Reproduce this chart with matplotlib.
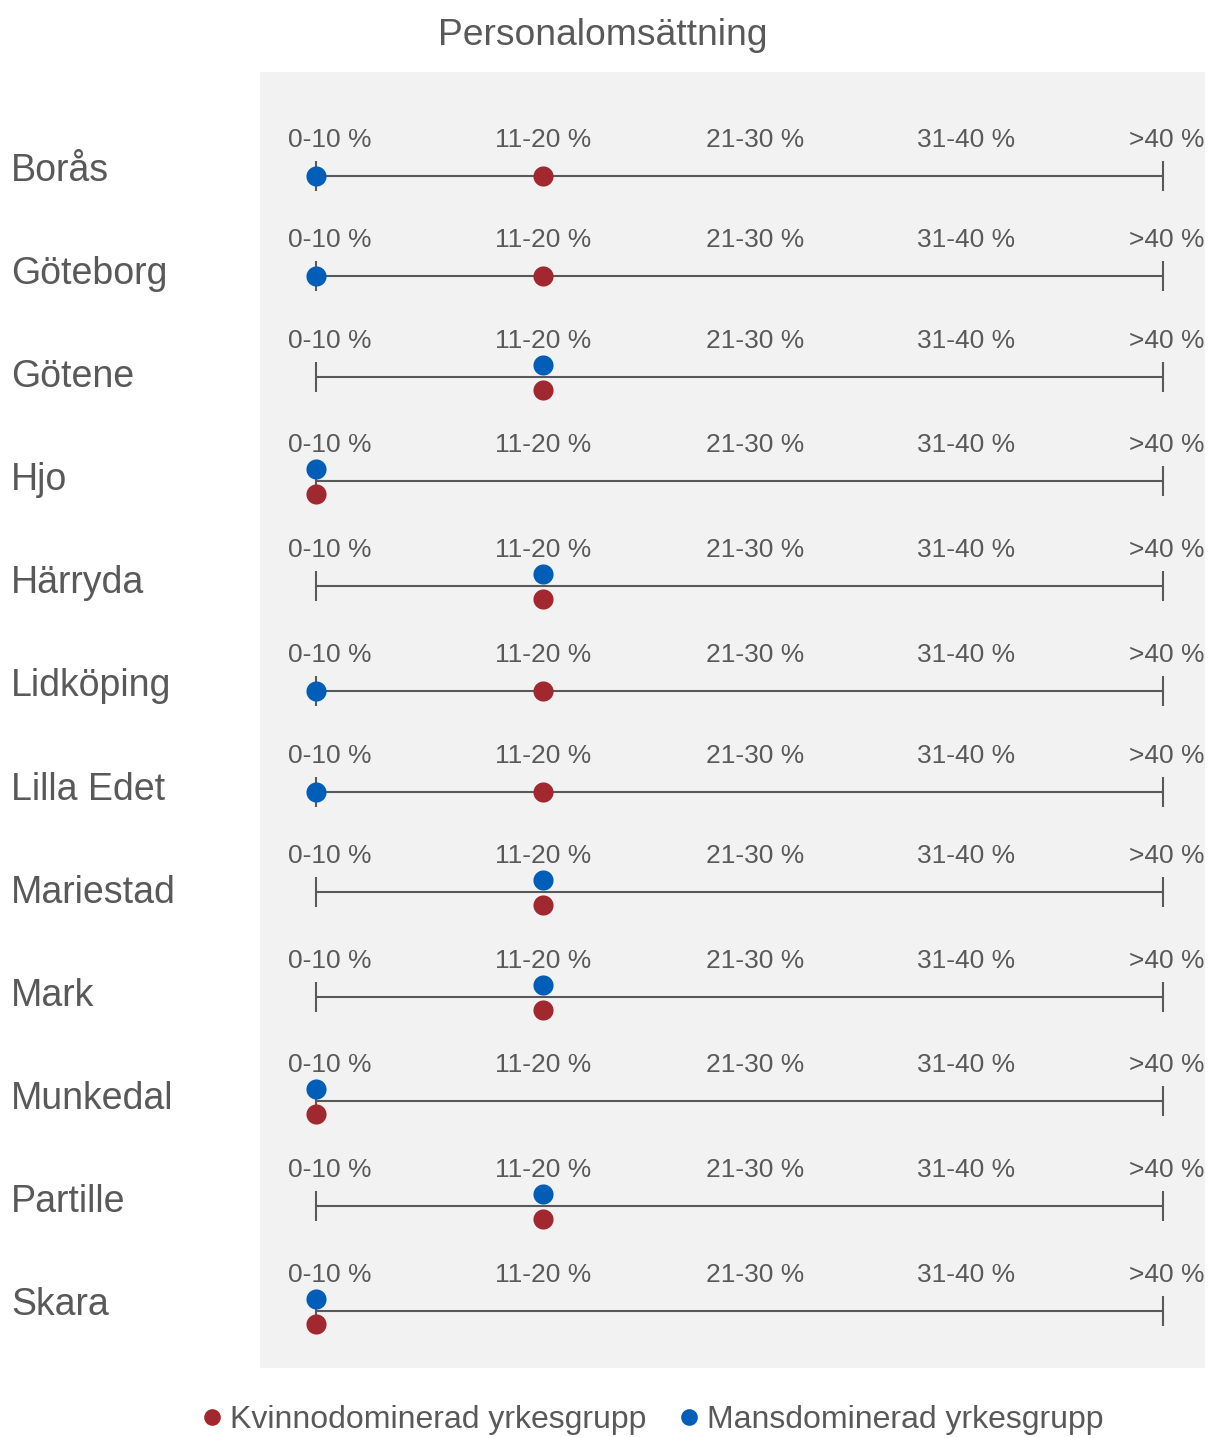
import matplotlib
matplotlib.use("Agg")
import matplotlib.pyplot as plt
from matplotlib.lines import Line2D

plt.rcParams['font.family'] = ['Liberation Sans', 'DejaVu Sans']

# ---- data ----
municipalities = ["Borås", "Göteborg", "Götene", "Hjo", "Härryda", "Lidköping",
                  "Lilla Edet", "Mariestad", "Mark", "Munkedal", "Partille", "Skara"]
categories = ["0-10 %", "11-20 %", "21-30 %", "31-40 %", ">40 %"]
# category index (0 = 0-10 %, 1 = 11-20 %, ...)
women_dominated = [1, 1, 1, 0, 1, 1, 1, 1, 1, 0, 1, 0]
men_dominated = [0, 0, 1, 0, 1, 0, 0, 1, 1, 0, 1, 0]
title = "Personalomsättning"
series_names = ["Kvinnodominerad yrkesgrupp", "Mansdominerad yrkesgrupp"]

# ---- layout / style ----
RED = "#A0282E"
BLUE = "#005EB8"
TEXT = "#595959"
LINE = "#595959"
PANEL = "#F2F2F2"
dot_x = [0.0, 1.072, 2.073, 3.069, 4.0]
label_x = [0.066, 1.072, 2.073, 3.069, 4.02]
row_px = [176, 276, 377, 481, 586, 691, 792, 892, 997, 1101, 1206, 1311]

W, H = 1221, 1438
fig = plt.figure(figsize=(W / 100, H / 100), dpi=100)
ax = fig.add_axes([260 / W, 1 - 1368 / H, 945 / W, 1296 / H])
ax.set_facecolor(PANEL)
for s in ax.spines.values():
    s.set_visible(False)
ax.set_xticks([])
ax.set_yticks([])

px_x = 211.75  # pixels per x unit
ax.set_xlim(-(316 - 260) / px_x, 4 + (1205 - 1163) / px_x)
# y axis in pixel-like units from top of panel
ax.set_ylim(1368, 72)

off = 12.5
tick_half = 15
name_x = ax.get_xlim()[0] - (260 - 11) / px_x
name_step = (1315 - 181) / 11

for i, name in enumerate(municipalities):
    y = row_px[i]
    ax.plot([dot_x[0], dot_x[-1]], [y, y], color=LINE, lw=1.5, zorder=1,
            solid_capstyle='butt')
    for xe in (dot_x[0], dot_x[-1]):
        ax.plot([xe, xe], [y - tick_half, y + tick_half], color=LINE, lw=1.5,
                zorder=1, solid_capstyle='butt')
    for j, lab in enumerate(categories):
        ax.text(label_x[j], y - 29, lab, ha='center', va='baseline',
                fontsize=19, color=TEXT)
    w, m = women_dominated[i], men_dominated[i]
    if w == m:
        yw, ym = y + off, y - off
    else:
        yw, ym = y, y
    ax.scatter([dot_x[w]], [yw], s=210, color=RED, zorder=3, linewidths=0)
    ax.scatter([dot_x[m]], [ym], s=210, color=BLUE, zorder=3, linewidths=0)
    ax.text(name_x, 181 + i * name_step, name, ha='left', va='baseline',
            fontsize=27, color=TEXT, clip_on=False)

fig.text(603 / W, 1 - 45 / H, title, ha='center', va='baseline',
         fontsize=26.8, color=TEXT)

handles = [Line2D([], [], marker='o', ls='none', color=RED, markersize=12,
                  markeredgewidth=0),
           Line2D([], [], marker='o', ls='none', color=BLUE, markersize=12,
                  markeredgewidth=0)]
leg = fig.legend(handles, series_names, loc='center',
                 bbox_to_anchor=(650 / W, 1 - 1420 / H), ncol=2, frameon=False,
                 fontsize=23, handletextpad=0.05, columnspacing=0.85,
                 handlelength=1.0)
for t in leg.get_texts():
    t.set_color(TEXT)

fig.savefig("out.png", dpi=100, facecolor='white')
